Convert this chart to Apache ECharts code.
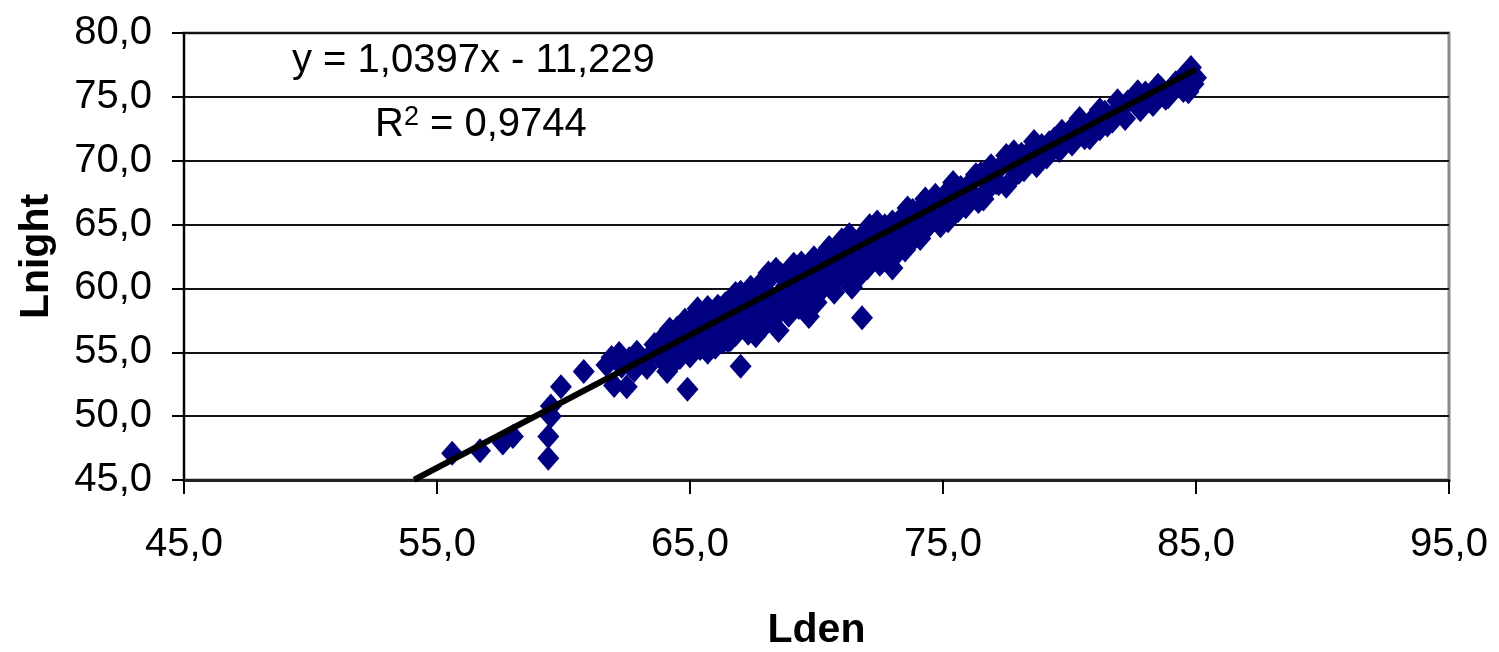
<!DOCTYPE html>
<html>
<head>
<meta charset="utf-8">
<script src="https://cdn.jsdelivr.net/npm/echarts@6/dist/echarts.min.js"></script>
<style>
html,body{margin:0;padding:0;background:#fff;}
#chart{width:1499px;height:652px;}
</style>
</head>
<body>
<div id="chart"></div>
<script>
// Axis ticks
const xTicks = [45, 55, 65, 75, 85, 95];
const yTicks = [45, 50, 55, 60, 65, 70, 75, 80];
const xAxisTitle = 'Lden';
const yAxisTitle = 'Lnight';

// Regression shown in the chart
const trendSlope = 1.0397;
const trendIntercept = -11.229;
const trendXRange = [54.1, 85.0];
const trendEquation = 'y = 1,0397x - 11,229';
const trendR2 = '0,9744';

// Measured points [Lden, Lnight]
const lden = [
55.6,56.7,57.6,58.0,59.4,59.4,59.5,59.5,59.9,60.8,
61.7,61.9,62.0,62.5,62.2,62.6,62.9,63.2,63.5,63.8,64.0,64.1,64.9,64.3,64.5,64.7,64.8,65.0,65.1,65.2,
65.3,65.4,65.6,65.7,65.8,65.9,66.0,66.1,66.2,66.3,66.4,66.5,66.6,66.7,66.8,66.9,67.0,67.0,67.1,67.2,
67.3,67.4,67.5,67.6,67.7,67.8,67.9,68.0,68.1,68.2,68.3,68.5,68.5,68.6,68.7,68.8,68.9,69.0,69.1,69.2,
69.3,69.4,69.5,69.6,69.7,69.8,69.9,70.0,70.1,70.2,70.3,70.4,70.5,70.6,70.7,70.8,70.9,71.0,71.1,71.2,
71.4,71.4,71.5,71.6,71.8,71.8,71.9,72.0,72.2,72.3,72.4,72.6,72.7,72.8,73.0,73.0,73.1,73.3,73.4,73.5,
73.7,73.8,73.9,74.0,74.2,74.3,74.5,74.6,74.8,75.0,75.1,75.3,75.5,75.7,75.9,76.1,76.2,76.4,76.6,76.8,
77.0,77.1,77.3,77.5,77.7,77.9,78.1,78.2,78.5,78.7,78.9,79.1,79.4,79.6,79.9,80.1,80.3,80.6,80.8,80.8,
81.2,81.4,81.7,82.0,82.2,82.5,82.8,83.0,83.3,83.6,83.9,84.2,84.5,84.8,84.9,
64.2,64.6,65.0,65.5,66.0,66.3,66.8,67.3,67.6,68.2,68.4,68.9,69.3,69.8,70.0,70.5,70.9,71.3,71.7,72.1,
72.5,72.9,73.2,73.6,74.1,74.4,74.7,75.2,75.4,75.8,76.3,76.6,76.9,77.2,77.5,77.8,78.0,78.4,78.6,78.8,
79.2,79.3,79.7,80.0,80.4,80.5,81.0,81.2,81.5,81.9,82.3,82.7,83.1,83.5,83.8,84.1,84.4,84.7,84.8,85.0,
62.3,62.8,63.0,63.3,63.6,63.9,64.2,64.4,64.6,64.9,65.2,65.5,65.7,66.0,66.2,66.6,67.0,67.4,67.8,68.1,
68.4,68.7,69.1,69.5,69.9,70.3,70.7,71.0,71.5,72.0,72.4,72.8,73.4,73.8,74.3,74.9,75.6,76.0,76.5
];
const lnight = [
47.1,47.3,47.9,48.4,46.7,48.4,50.0,50.8,52.3,53.5,
54.0,54.6,52.4,52.3,54.9,54.5,55.0,54.3,54.9,55.5,56.3,53.5,52.1,55.0,56.9,55.6,57.5,54.7,56.2,57.9,
58.4,55.3,57.0,58.5,56.1,57.6,55.4,58.6,56.7,57.9,58.8,55.9,57.2,59.3,56.4,58.1,53.9,59.7,57.0,58.8,
56.5,60.1,57.6,59.2,58.2,60.4,57.0,59.8,58.5,60.9,57.6,56.7,59.3,61.1,58.6,60.2,57.9,61.6,59.4,60.6,
58.5,62.0,60.0,61.2,57.8,59.3,62.4,60.6,61.8,59.9,62.7,61.0,60.2,62.2,61.5,63.2,60.9,62.6,61.3,63.6,
60.1,62.0,63.4,62.8,57.7,64.1,61.9,63.2,62.4,64.5,63.0,62.1,64.9,63.7,61.6,65.2,63.3,64.2,65.6,63.0,
64.8,66.1,64.0,65.4,66.5,64.6,65.9,66.9,65.2,66.5,67.4,65.9,66.9,67.9,66.4,68.3,67.3,66.8,68.7,67.8,
69.2,68.3,69.6,68.0,70.1,69.0,70.5,69.3,70.9,69.6,71.2,70.3,71.7,70.8,72.1,71.3,72.6,71.8,73.0,71.8,
72.5,73.8,73.1,74.2,73.3,74.8,74.0,75.3,74.4,75.7,75.0,76.1,75.5,76.8,76.0,
56.8,54.6,57.3,56.0,58.0,55.8,59.6,58.0,56.3,59.0,61.5,60.9,59.6,61.0,58.9,63.2,62.0,64.2,61.0,64.9,
61.9,63.8,62.8,66.3,63.9,65.3,67.3,65.3,68.3,67.2,68.9,67.0,69.6,68.2,70.4,70.7,69.1,70.0,71.5,70.2,
71.4,71.0,72.3,72.3,73.3,72.1,73.3,74.0,72.8,74.7,74.6,75.4,74.7,75.9,74.9,75.6,76.4,75.4,77.3,76.5,
53.9,53.6,54.6,53.8,55.6,54.4,55.3,54.3,56.1,56.8,55.9,57.7,55.0,56.8,58.4,56.0,57.9,59.0,57.4,61.2,
58.0,59.9,61.9,58.8,60.1,61.3,59.7,63.8,62.4,61.6,65.2,62.6,63.8,65.0,67.0,64.9,66.1,67.6,69.0
];

const points = lden.map((x, i) => [x, lnight[i]]);
const trendData = trendXRange.map(x => [x, trendSlope * x + trendIntercept]);

const fmt = v => v.toFixed(1).replace('.', ',');
const FONT = "'Liberation Sans', Arial, sans-serif";

const chart = echarts.init(document.getElementById('chart'));
chart.setOption({
  animation: false,
  backgroundColor: '#fff',
  grid: {
    left: 184, right: 50, top: 33, bottom: 172,
    outerBoundsMode: 'none', containLabel: false,
    show: true, borderColor: '#8a8a8a', borderWidth: 3, backgroundColor: '#fff'
  },
  xAxis: {
    type: 'value',
    min: xTicks[0], max: xTicks[xTicks.length - 1], interval: xTicks[1] - xTicks[0],
    name: xAxisTitle, nameLocation: 'middle', nameGap: 130,
    nameTextStyle: { fontFamily: FONT, fontSize: 41, fontWeight: 'bold', color: '#000' },
    axisLine: { show: true, lineStyle: { color: '#222', width: 3 } },
    axisTick: { show: true, inside: false, length: 14, lineStyle: { color: '#000', width: 2 } },
    axisLabel: { formatter: fmt, fontFamily: FONT, fontSize: 40, color: '#000', margin: 45 },
    splitLine: { show: false }
  },
  yAxis: {
    type: 'value',
    min: yTicks[0], max: yTicks[yTicks.length - 1], interval: yTicks[1] - yTicks[0],
    name: yAxisTitle, nameLocation: 'middle', nameGap: 127, nameRotate: 90,
    nameTextStyle: { fontFamily: FONT, fontSize: 41, fontWeight: 'bold', color: '#000' },
    axisLine: { show: true, lineStyle: { color: '#000', width: 2 } },
    axisTick: { show: true, inside: false, length: 12, lineStyle: { color: '#000', width: 2 } },
    axisLabel: { formatter: fmt, fontFamily: FONT, fontSize: 40, color: '#000', margin: 32 },
    splitLine: { show: true, lineStyle: { color: '#111', width: 2 } }
  },
  series: [
    {
      type: 'scatter',
      data: points,
      symbol: 'diamond',
      symbolSize: [22, 25],
      itemStyle: { color: '#000080', opacity: 1 },
      z: 2
    },
    {
      type: 'line',
      data: trendData,
      symbol: 'none',
      lineStyle: { color: '#000', width: 6 },
      clip: true,
      z: 3
    }
  ],
  graphic: [
    {
      type: 'text', left: 292, top: 41, z: 10,
      style: { text: trendEquation, fontFamily: FONT, fontSize: 40, fill: '#000' }
    },
    {
      type: 'text', left: 375, top: 104, z: 10,
      style: {
        text: '{a|R}{s|2}{a| = ' + trendR2 + '}',
        rich: {
          a: { fontFamily: FONT, fontSize: 40, fill: '#000', color: '#000' },
          s: { fontFamily: FONT, fontSize: 27, fill: '#000', color: '#000', verticalAlign: 'top', padding: [0, 0, 14, 0] }
        }
      }
    }
  ]
});
</script>
</body>
</html>
